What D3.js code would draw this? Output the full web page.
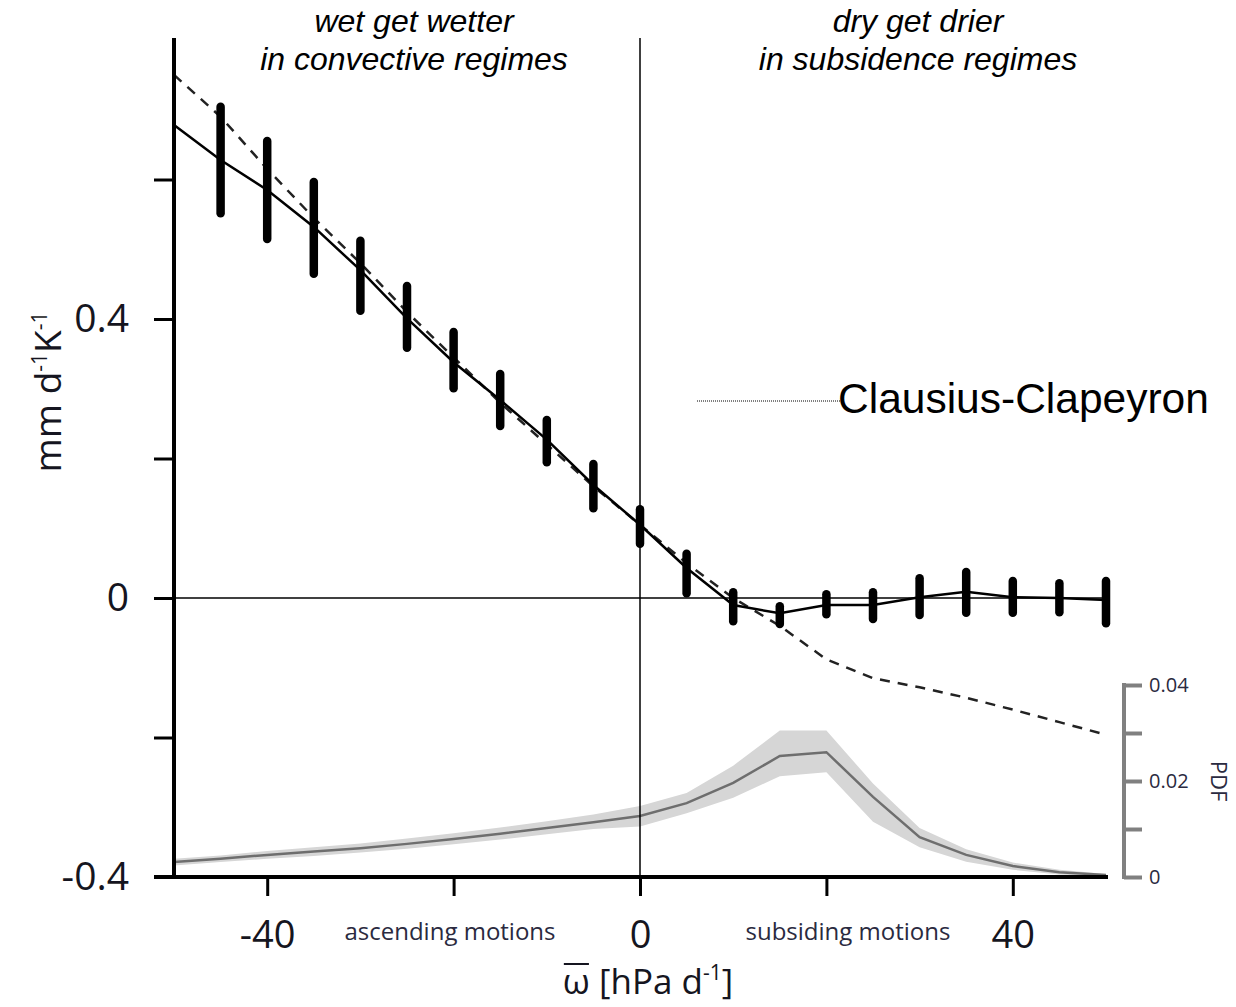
<!DOCTYPE html>
<html>
<head>
<meta charset="utf-8">
<script src="https://cdn.jsdelivr.net/npm/d3@7"></script>
<style>
    body { margin: 0; background: #fff; }
    svg { display: block; }
</style>
</head>
<body>
<div id="chart"></div>
<script>
// omega bins [hPa/d]
var omega = [-50, -45, -40, -35, -30, -25, -20, -15, -10, -5, 0, 5, 10, 15, 20, 25, 30, 35, 40, 45, 50];
// precipitation change [mm/d/K]
var precipChange = [0.678, 0.628, 0.585, 0.532, 0.470, 0.401, 0.338, 0.284, 0.227, 0.162, 0.105, 0.043, -0.010, -0.022, -0.010, -0.010, 0.001, 0.009, 0.001, 0.000, -0.003];
var errHigh = [null, 0.710, 0.661, 0.602, 0.518, 0.453, 0.387, 0.327, 0.261, 0.198, 0.133, 0.069, 0.014, -0.006, 0.011, 0.014, 0.034, 0.043, 0.030, 0.027, 0.030];
var errLow = [null, 0.546, 0.509, 0.459, 0.406, 0.353, 0.295, 0.241, 0.189, 0.123, 0.072, 0.001, -0.039, -0.043, -0.029, -0.036, -0.030, -0.027, -0.027, -0.026, -0.042];
// Clausius-Clapeyron scaling (dashed)
var ccScaling = [0.750, 0.690, 0.615, 0.545, 0.480, 0.410, 0.345, 0.280, 0.220, 0.160, 0.105, 0.050, 0.000, -0.040, -0.088, -0.115, -0.128, -0.143, -0.160, -0.178, -0.196];
// PDF of omega
var pdf = [0.0031, 0.0038, 0.0046, 0.0053, 0.0060, 0.0069, 0.0079, 0.0090, 0.0102, 0.0114, 0.0127, 0.0154, 0.0196, 0.0252, 0.0260, 0.0167, 0.0083, 0.0046, 0.0023, 0.0010, 0.0004];
var pdfLow = [0.0024, 0.0031, 0.0038, 0.0044, 0.0051, 0.0059, 0.0068, 0.0078, 0.0089, 0.0100, 0.0105, 0.0133, 0.0165, 0.0210, 0.0218, 0.0115, 0.0062, 0.0032, 0.0015, 0.0005, 0.0001];
var pdfHigh = [0.0038, 0.0045, 0.0054, 0.0062, 0.0070, 0.0080, 0.0091, 0.0103, 0.0116, 0.0130, 0.0148, 0.0175, 0.0232, 0.0305, 0.0305, 0.0195, 0.0102, 0.0058, 0.0030, 0.0015, 0.0006];

var yTicks = [-0.4, -0.2, 0, 0.2, 0.4, 0.6];
var yLabels = [-0.4, 0, 0.4];
var xTicks = [-40, -20, 0, 20, 40];
var xLabels = [-40, 0, 40];
var pdfTicks = [0, 0.01, 0.02, 0.03, 0.04];
var pdfLabels = [0, 0.02, 0.04];

var width = 1236, height = 1007;
var tickFont = "'Open Sans', 'DejaVu Sans', sans-serif";
var noteFont = "'Liberation Sans', Arial, sans-serif";

var svg = d3.select("#chart").append("svg")
    .attr("width", width)
    .attr("height", height);

var x = d3.scaleLinear().domain([-50, 50]).range([174, 1106]);
var y = d3.scaleLinear().domain([-0.4, 0.8]).range([877, 40]);
var yPdf = d3.scaleLinear().domain([0, 0.04]).range([877, 685]);

var data = omega.map(function (w, i) {
    return { w: w, p: precipChange[i], hi: errHigh[i], lo: errLow[i], cc: ccScaling[i],
             pdf: pdf[i], pdfLo: pdfLow[i], pdfHi: pdfHigh[i] };
});

// PDF band and line
svg.append("path")
    .datum(data)
    .attr("fill", "#d6d6d6")
    .attr("d", d3.area()
        .x(function (d) { return x(d.w); })
        .y0(function (d) { return yPdf(d.pdfLo); })
        .y1(function (d) { return yPdf(d.pdfHi); }));

svg.append("path")
    .datum(data)
    .attr("fill", "none")
    .attr("stroke", "#6e6e6e")
    .attr("stroke-width", 2.5)
    .attr("d", d3.line()
        .x(function (d) { return x(d.w); })
        .y(function (d) { return yPdf(d.pdf); }));

// zero lines
svg.append("line")
    .attr("x1", x(-50)).attr("x2", x(50))
    .attr("y1", y(0)).attr("y2", y(0))
    .attr("stroke", "#000").attr("stroke-width", 1.5);
svg.append("line")
    .attr("x1", x(0)).attr("x2", x(0))
    .attr("y1", y(0.8) - 2).attr("y2", y(-0.4))
    .attr("stroke", "#000").attr("stroke-width", 1.5);

// Clausius-Clapeyron dashed
svg.append("path")
    .datum(data)
    .attr("fill", "none")
    .attr("stroke", "#222")
    .attr("stroke-width", 2.5)
    .attr("stroke-dasharray", "10,8")
    .attr("d", d3.line()
        .x(function (d) { return x(d.w); })
        .y(function (d) { return y(d.cc); }));

// model line
svg.append("path")
    .datum(data)
    .attr("fill", "none")
    .attr("stroke", "#000")
    .attr("stroke-width", 2.5)
    .attr("d", d3.line()
        .x(function (d) { return x(d.w); })
        .y(function (d) { return y(d.p); }));

// error bars
svg.append("g")
    .selectAll("line")
    .data(data.filter(function (d) { return d.hi !== null; }))
    .enter()
    .append("line")
    .attr("x1", function (d) { return x(d.w); })
    .attr("x2", function (d) { return x(d.w); })
    .attr("y1", function (d) { return y(d.hi) + 4; })
    .attr("y2", function (d) { return y(d.lo) - 4; })
    .attr("stroke", "#000")
    .attr("stroke-width", 8.5)
    .attr("stroke-linecap", "round");

// left axis
var yAxis = svg.append("g")
    .attr("transform", "translate(" + x(-50) + ",0)")
    .call(d3.axisLeft(y)
        .tickValues(yTicks)
        .tickSize(20)
        .tickSizeOuter(0)
        .tickPadding(25)
        .tickFormat(function (d) { return yLabels.indexOf(d) >= 0 ? String(d) : ""; }));
yAxis.select(".domain").attr("stroke-width", 4).attr("d", "M0," + (y(0.8) - 2) + "V" + (y(-0.4) + 2));
yAxis.selectAll(".tick line").attr("stroke-width", 3);
yAxis.selectAll("text")
    .style("font-family", tickFont)
    .style("font-size", "39px")
    .attr("fill", "#151520");

// bottom axis
var xAxis = svg.append("g")
    .attr("transform", "translate(0," + y(-0.4) + ")")
    .call(d3.axisBottom(x)
        .tickValues(xTicks)
        .tickSize(19)
        .tickSizeOuter(0)
        .tickPadding(25)
        .tickFormat(function (d) { return xLabels.indexOf(d) >= 0 ? String(d) : ""; }));
xAxis.select(".domain").attr("stroke-width", 4).attr("d", "M" + (x(-50) - 20) + ",0H" + (x(50) + 2));
xAxis.selectAll(".tick line").attr("stroke-width", 3);
xAxis.selectAll("text")
    .style("font-family", tickFont)
    .style("font-size", "38px")
    .attr("fill", "#151520");

// motion labels
svg.append("text")
    .attr("x", 450).attr("y", 940)
    .attr("text-anchor", "middle")
    .style("font-family", tickFont)
    .style("font-size", "24px")
    .attr("fill", "#2a2a40")
    .text("ascending motions");
svg.append("text")
    .attr("x", 848).attr("y", 940)
    .attr("text-anchor", "middle")
    .style("font-family", tickFont)
    .style("font-size", "24px")
    .attr("fill", "#2a2a40")
    .text("subsiding motions");

// x axis title
var xTitle = svg.append("text")
    .attr("x", 648).attr("y", 994)
    .attr("text-anchor", "middle")
    .style("font-family", tickFont)
    .style("font-size", "35px")
    .attr("fill", "#151520");
var omegaSpan = xTitle.append("tspan").text("ω");
xTitle.append("tspan").text(" [hPa d");
xTitle.append("tspan").attr("baseline-shift", "super").style("font-size", "21px").text("-1");
xTitle.append("tspan").text("]");
var ob = omegaSpan.node().getBBox();
svg.append("line")
    .attr("x1", ob.x + 1).attr("x2", ob.x + ob.width - 1)
    .attr("y1", 964).attr("y2", 964)
    .attr("stroke", "#151520").attr("stroke-width", 2);

// y axis title
var yTitle = svg.append("text")
    .attr("transform", "translate(61,392) rotate(-90)")
    .attr("text-anchor", "middle")
    .style("font-family", tickFont)
    .style("font-size", "37px")
    .attr("fill", "#151520");
yTitle.append("tspan").text("mm d");
yTitle.append("tspan").attr("baseline-shift", "super").style("font-size", "21px").text("-1");
yTitle.append("tspan").text("K");
yTitle.append("tspan").attr("baseline-shift", "super").style("font-size", "21px").text("-1");

// PDF axis
var pdfAxis = svg.append("g")
    .attr("transform", "translate(1124,0)")
    .call(d3.axisRight(yPdf)
        .tickValues(pdfTicks)
        .tickSize(18)
        .tickSizeOuter(0)
        .tickPadding(7)
        .tickFormat(function (d) { return pdfLabels.indexOf(d) >= 0 ? String(d) : ""; }));
pdfAxis.select(".domain").attr("stroke", "#808080").attr("stroke-width", 4)
    .attr("d", "M0," + (yPdf(0.04) - 2) + "V" + (yPdf(0) + 2));
pdfAxis.selectAll(".tick line").attr("stroke", "#808080").attr("stroke-width", 4);
pdfAxis.selectAll("text")
    .style("font-family", tickFont)
    .style("font-size", "20px")
    .attr("fill", "#2a2a40");
svg.append("text")
    .attr("transform", "translate(1211," + yPdf(0.02) + ") rotate(90)")
    .attr("text-anchor", "middle")
    .style("font-family", tickFont)
    .style("font-size", "22px")
    .attr("fill", "#2a2a40")
    .text("PDF");

// top annotations
var notes = [
    { cx: 414, lines: ["wet get wetter", "in convective regimes"] },
    { cx: 918, lines: ["dry get drier", "in subsidence regimes"] }
];
notes.forEach(function (n) {
    n.lines.forEach(function (t, i) {
        svg.append("text")
            .attr("x", n.cx).attr("y", 32 + i * 38)
            .attr("text-anchor", "middle")
            .style("font-family", noteFont)
            .style("font-style", "italic")
            .style("font-size", "32px")
            .attr("fill", "#000")
            .text(t);
    });
});

// Clausius-Clapeyron legend
svg.append("line")
    .attr("x1", 697).attr("x2", 843)
    .attr("y1", 401).attr("y2", 401)
    .attr("stroke", "#000").attr("stroke-width", 1)
    .attr("stroke-dasharray", "1,1");
svg.append("text")
    .attr("x", 838).attr("y", 413)
    .style("font-family", noteFont)
    .style("font-size", "42.5px")
    .attr("fill", "#000")
    .text("Clausius-Clapeyron");
</script>
</body>
</html>
